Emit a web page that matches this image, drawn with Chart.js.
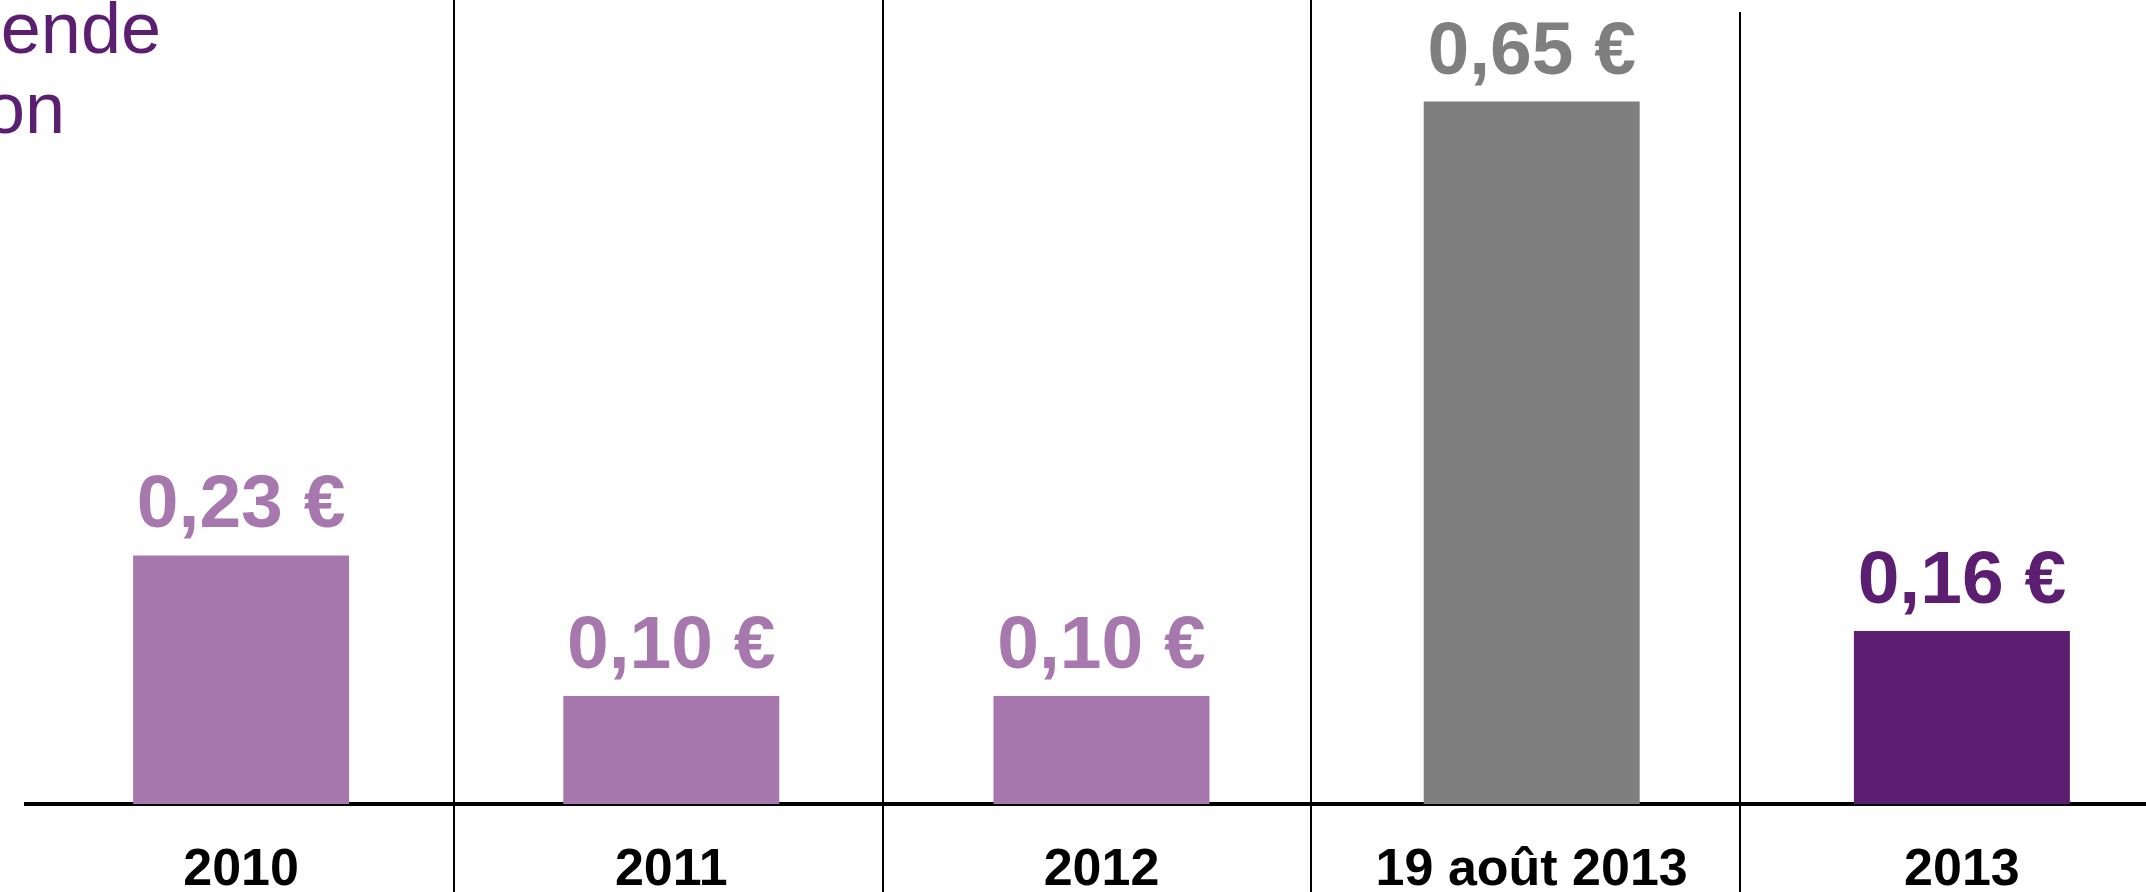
<!DOCTYPE html>
<html>
<head>
<meta charset="utf-8">
<script src="https://cdn.jsdelivr.net/npm/chart.js@4/dist/chart.umd.min.js"></script>
<style>
    html, body { margin: 0; padding: 0; background: #fff; overflow: hidden; }
    #wrap { width: 2200px; height: 892px; }
</style>
</head>
<body>
<div id="wrap"><canvas id="dividend-chart" width="2200" height="892"></canvas></div>
<script>
// Dividende par action
const categories = ['2010', '2011', '2012', '19 août 2013', '2013'];
const dividends = [0.23, 0.10, 0.10, 0.65, 0.16];
const barColors = ['#A778AD', '#A778AD', '#A778AD', '#7F7F7F', '#5B1E71'];
const titleLines = ['Dividende', 'par action'];

const FONT = '"Liberation Sans", Arial, sans-serif';

// value labels above each bar
const valueLabels = {
    id: 'valueLabels',
    afterDatasetsDraw(chart) {
        const ctx = chart.ctx;
        const meta = chart.getDatasetMeta(0);
        ctx.save();
        ctx.font = 'bold 75px ' + FONT;
        ctx.textAlign = 'center';
        ctx.textBaseline = 'alphabetic';
        meta.data.forEach((bar, i) => {
            const txt = dividends[i].toFixed(2).replace('.', ',') + ' €';
            ctx.fillStyle = barColors[i];
            ctx.fillText(txt, bar.x, bar.y - 28);
        });
        ctx.restore();
    }
};

// vertical separators between the years + purple heading
const decorations = {
    id: 'decorations',
    afterDraw(chart) {
        const ctx = chart.ctx;
        const xs = chart.scales.x;
        const step = xs.width / categories.length * 0.996;
        ctx.save();
        ctx.strokeStyle = '#000';
        ctx.lineWidth = 2;
        for (let i = 1; i < categories.length; i++) {
            const x = Math.round(xs.left + i * step);
            ctx.beginPath();
            ctx.moveTo(x, i === categories.length - 1 ? 12 : 0);
            ctx.lineTo(x, chart.height);
            ctx.stroke();
        }

        ctx.fillStyle = '#5B1E71';
        ctx.font = '72px ' + FONT;
        ctx.textAlign = 'right';
        ctx.textBaseline = 'alphabetic';
        ctx.fillText(titleLines[0], 161, 53);
        ctx.fillText(titleLines[1], 65, 133);
        ctx.restore();
    }
};

new Chart(document.getElementById('dividend-chart'), {
    type: 'bar',
    data: {
        labels: categories,
        datasets: [{
            data: dividends,
            backgroundColor: barColors,
            borderWidth: 0,
            barPercentage: 0.502,
            categoryPercentage: 1
        }]
    },
    options: {
        responsive: false,
        animation: false,
        layout: { padding: { left: 26, right: 23, top: 0, bottom: 0 } },
        scales: {
            x: {
                grid: { display: false },
                border: { display: true, color: '#000', width: 4 },
                ticks: {
                    color: '#000',
                    padding: 27,
                    font: { family: FONT, size: 52, weight: 'bold' }
                },
                afterFit(scale) { scale.height = 88; }
            },
            y: {
                display: false,
                min: 0,
                max: 0.744
            }
        },
        plugins: {
            legend: { display: false },
            tooltip: { enabled: false }
        }
    },
    plugins: [valueLabels, decorations]
});
</script>
</body>
</html>
